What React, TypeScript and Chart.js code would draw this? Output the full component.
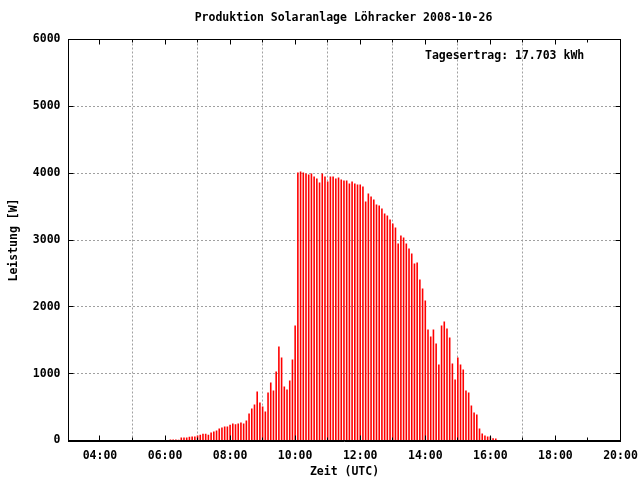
import React, { useEffect, useRef } from "react";
import { Chart, registerables } from "chart.js";

Chart.register(...registerables);

const TITLE = "Produktion Solaranlage Löhracker 2008-10-26";
const X_TITLE = "Zeit (UTC)";
const Y_TITLE = "Leistung [W]";
const ANNOTATION = "Tagesertrag: 17.703 kWh";

const xMajorTickLabels = ["04:00", "06:00", "08:00", "10:00", "12:00", "14:00", "16:00", "18:00", "20:00"];
const xMinorTickLabels = ["05:00", "07:00", "09:00", "11:00", "13:00", "15:00", "17:00", "19:00"];
const yTickValues = [0, 1000, 2000, 3000, 4000, 5000, 6000];
const X_MIN = "03:02";
const X_MAX = "20:00";

const times = [
  "06:10", "06:15", "06:20", "06:25", "06:30", "06:35", "06:40", "06:45", "06:50", "06:55",
  "07:00", "07:05", "07:10", "07:15", "07:20", "07:25", "07:30", "07:35", "07:40", "07:45", "07:50", "07:55",
  "08:00", "08:05", "08:10", "08:15", "08:20", "08:25", "08:30", "08:35", "08:40", "08:45", "08:50", "08:55",
  "09:00", "09:05", "09:10", "09:15", "09:20", "09:25", "09:30", "09:35", "09:40", "09:45", "09:50", "09:55",
  "10:00", "10:05", "10:10", "10:15", "10:20", "10:25", "10:30", "10:35", "10:40", "10:45", "10:50", "10:55",
  "11:00", "11:05", "11:10", "11:15", "11:20", "11:25", "11:30", "11:35", "11:40", "11:45", "11:50", "11:55",
  "12:00", "12:05", "12:10", "12:15", "12:20", "12:25", "12:30", "12:35", "12:40", "12:45", "12:50", "12:55",
  "13:00", "13:05", "13:10", "13:15", "13:20", "13:25", "13:30", "13:35", "13:40", "13:45", "13:50", "13:55",
  "14:00", "14:05", "14:10", "14:15", "14:20", "14:25", "14:30", "14:35", "14:40", "14:45", "14:50", "14:55",
  "15:00", "15:05", "15:10", "15:15", "15:20", "15:25", "15:30", "15:35", "15:40", "15:45", "15:50", "15:55",
  "16:00", "16:05", "16:10",
];

const power = [
  15, 15, 15, 10, 45, 45, 45, 55, 60, 60,
  75, 85, 100, 100, 85, 120, 135, 150, 180, 195, 210, 210,
  235, 255, 244, 254, 269, 254, 299, 404, 479, 539, 733, 569,
  509, 434, 718, 868, 748, 1032, 1406, 1242, 808, 763, 898, 1212,
  1720, 4009, 4024, 4009, 3994, 3979, 3994, 3949, 3919, 3860, 3994, 3949,
  3875, 3949, 3949, 3919, 3934, 3904, 3890, 3890, 3845, 3875, 3845, 3830,
  3830, 3800, 3575, 3695, 3650, 3605, 3530, 3515, 3470, 3396, 3366, 3306,
  3246, 3186, 2947, 3067, 3037, 2947, 2872, 2797, 2648, 2663, 2409, 2274,
  2094, 1661, 1556, 1661, 1451, 1137, 1720, 1780, 1676, 1541, 1152, 913,
  1242, 1137, 1062, 748, 718, 524, 419, 389, 180, 105, 75, 60,
  60, 35, 30,
];

const FONT_FAMILY = "'DejaVu Sans Mono', 'Liberation Mono', monospace";
const FONT_SIZE = 11.5;

function toHours(t: string): number {
  const [h, m] = t.split(":").map(Number);
  return h + m / 60;
}

function formatHour(v: number): string {
  const h = Math.floor(v + 1e-9);
  const m = Math.round((v - h) * 60);
  return String(h).padStart(2, "0") + ":" + String(m).padStart(2, "0");
}

const framePlugin = {
  id: "gnuplotFrame",
  afterDatasetsDraw(chart: any) {
    const { ctx, chartArea, scales } = chart;
    const { left, right, top, bottom } = chartArea;
    const x = scales.x;
    const y = scales.y;
    ctx.save();
    ctx.strokeStyle = "#000000";
    ctx.lineWidth = 1;
    ctx.beginPath();
    const snap = (p: number) => Math.floor(p) + 0.5;
    const majorLen = 5;
    const minorLen = 3;
    xMajorTickLabels.forEach((t) => {
      const px = snap(x.getPixelForValue(toHours(t)));
      ctx.moveTo(px, bottom);
      ctx.lineTo(px, bottom - majorLen);
      ctx.moveTo(px, top);
      ctx.lineTo(px, top + majorLen);
    });
    xMinorTickLabels.forEach((t) => {
      const px = snap(x.getPixelForValue(toHours(t)));
      ctx.moveTo(px, bottom);
      ctx.lineTo(px, bottom - minorLen);
      ctx.moveTo(px, top);
      ctx.lineTo(px, top + minorLen);
    });
    yTickValues.forEach((v) => {
      const py = snap(y.getPixelForValue(v));
      ctx.moveTo(left, py);
      ctx.lineTo(left + majorLen, py);
      ctx.moveTo(right, py);
      ctx.lineTo(right - majorLen, py);
    });
    ctx.stroke();
    ctx.strokeRect(left, top, right - left, bottom - top);
    // heavier baseline along the bottom edge
    ctx.beginPath();
    ctx.moveTo(left - 0.5, bottom + 1);
    ctx.lineTo(right + 0.5, bottom + 1);
    ctx.stroke();
    ctx.restore();
  },
  afterDraw(chart: any) {
    const { ctx, chartArea } = chart;
    ctx.save();
    ctx.fillStyle = "#000000";
    ctx.font = `bold ${FONT_SIZE}px ${FONT_FAMILY}`;
    ctx.textBaseline = "middle";
    ctx.textAlign = "center";
    ctx.fillText(TITLE, (chartArea.left + chartArea.right) / 2 - 1, 18);
    ctx.textAlign = "left";
    ctx.fillText(ANNOTATION, 425, 56);
    ctx.restore();
  },
};

export default function App() {
  const canvasRef = useRef<HTMLCanvasElement | null>(null);

  useEffect(() => {
    const canvas = canvasRef.current;
    if (!canvas) return;
    const points = times.map((t, i) => ({ x: toHours(t), y: power[i] }));
    const font = { family: FONT_FAMILY, size: FONT_SIZE, weight: "bold" as const };
    const chart = new Chart(canvas, {
      type: "bar",
      data: {
        datasets: [
          {
            label: "Leistung",
            data: points as any,
            backgroundColor: "#ff0000",
            borderWidth: 0,
            barThickness: 1.6,
            inflateAmount: 0,
            grouped: false,
          } as any,
        ],
      },
      options: {
        animation: false,
        responsive: false,
        devicePixelRatio: 1,
        layout: { padding: { left: 0, right: 19.5, top: 39.5, bottom: 0 } },
        plugins: {
          legend: { display: false },
          tooltip: { enabled: false },
          title: { display: false },
        },
        scales: {
          x: {
            type: "linear",
            offset: false,
            min: toHours(X_MIN),
            max: toHours(X_MAX),
            afterBuildTicks: (scale: any) => {
              scale.ticks = xMajorTickLabels.map((t) => ({ value: toHours(t) }));
            },
            afterFit: (scale: any) => {
              scale.height = 39.5;
              scale.paddingLeft = 0;
              scale.paddingRight = 0;
            },
            grid: {
              drawTicks: false,
              lineWidth: 1,
              color: (c: any) =>
                c.tick && Math.abs(c.tick.value - toHours(X_MAX)) < 1e-6 ? "rgba(0,0,0,0)" : "#a0a0a0",
            },
            border: { display: false, dash: [2, 2] },
            ticks: {
              autoSkip: false,
              maxRotation: 0,
              minRotation: 0,
              padding: 9,
              color: "#000000",
              font,
              callback: (v: any) => formatHour(Number(v)),
            },
            title: {
              display: true,
              text: X_TITLE,
              color: "#000000",
              font,
              padding: { top: 0, bottom: 1.5 },
            },
          },
          y: {
            type: "linear",
            min: yTickValues[0],
            max: yTickValues[yTickValues.length - 1],
            afterBuildTicks: (scale: any) => {
              scale.ticks = yTickValues.map((v) => ({ value: v }));
            },
            afterFit: (scale: any) => {
              scale.width = 68.5;
              scale.paddingTop = 0;
              scale.paddingBottom = 0;
            },
            grid: {
              drawTicks: false,
              lineWidth: 1,
              color: (c: any) =>
                c.tick && (c.tick.value === yTickValues[0] || c.tick.value === yTickValues[yTickValues.length - 1])
                  ? "rgba(0,0,0,0)"
                  : "#a0a0a0",
            },
            border: { display: false, dash: [2, 2] },
            ticks: {
              padding: 8,
              color: "#000000",
              font,
              callback: (v: any) => String(v),
            },
            title: {
              display: true,
              text: Y_TITLE,
              color: "#000000",
              font,
              padding: { top: 7, bottom: 0 },
            },
          },
        },
      },
      plugins: [framePlugin],
    });
    return () => chart.destroy();
  }, []);

  return (
    <div style={{ position: "absolute", left: 0, top: 0, width: 640, height: 480, background: "#ffffff" }}>
      <canvas ref={canvasRef} width={640} height={480} style={{ display: "block" }} />
    </div>
  );
}
